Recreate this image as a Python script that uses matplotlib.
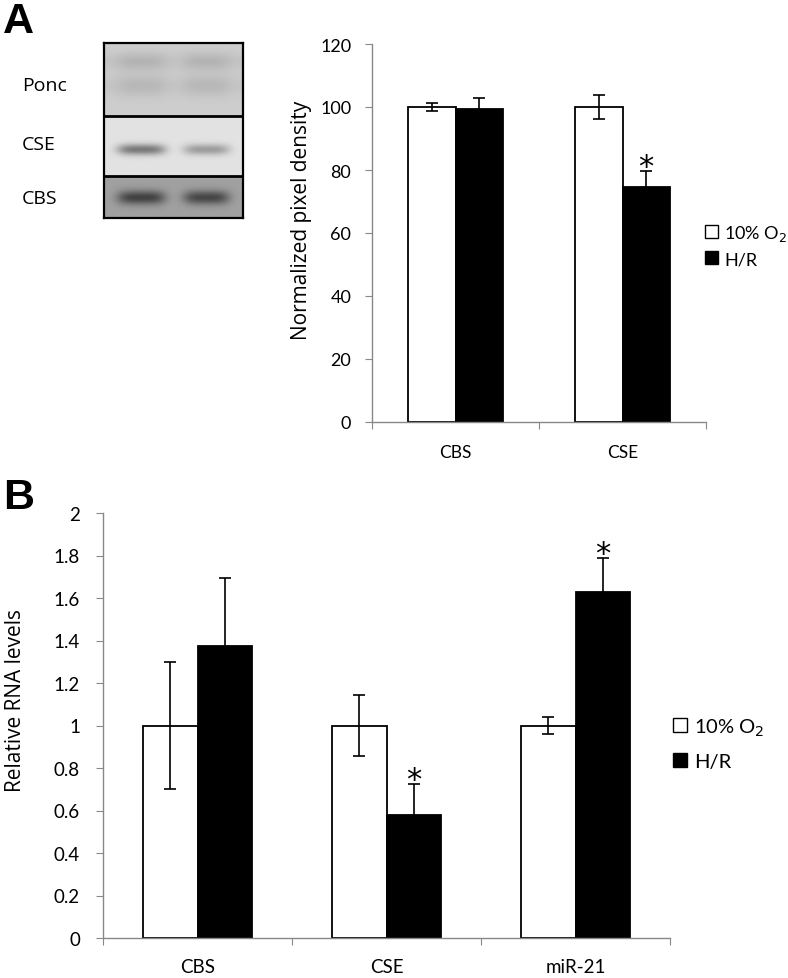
import numpy as np
import matplotlib.pyplot as plt
from matplotlib.patches import Patch
from matplotlib.ticker import FuncFormatter

plt.rcParams['font.family'] = ['Lato', 'DejaVu Sans']

# Panel A: western blot densitometry
a_genes = ["CBS", "CSE"]
a_ctrl = [100.0, 100.0]
a_ctrl_err = [1.2, 3.7]
a_hr = [99.5, 74.7]
a_hr_err = [3.5, 5.0]
a_sig = [False, True]

# Panel B: qPCR
b_genes = ["CBS", "CSE", "miR-21"]
b_ctrl = [1.0, 1.0, 1.0]
b_ctrl_err = [0.30, 0.145, 0.038]
b_hr = [1.375, 0.58, 1.63]
b_hr_err = [0.32, 0.145, 0.16]
b_sig = [False, True, True]

blot_rows = ["Ponc", "CSE", "CBS"]
legend_labels = ["10% O$_2$", "H/R"]

W, H = 788, 979
fig = plt.figure(figsize=(W / 100, H / 100), dpi=100)


def fig_rect(x0, y0, x1, y1):
    return [x0 / W, 1 - y1 / H, (x1 - x0) / W, (y1 - y0) / H]


def bar_panel(ax, genes, ctrl, ctrl_err, hr, hr_err, sig, ymax, step, star_pad, bw,
              xpad, xsize, ypad, ysize):
    n = len(genes)
    x = np.arange(n) + 0.5
    ax.bar(x - bw / 2, ctrl, bw, color="white", edgecolor="black", linewidth=1.3, zorder=2)
    ax.bar(x + bw / 2, hr, bw, color="black", edgecolor="black", linewidth=1.3, zorder=2)
    ax.errorbar(x - bw / 2, ctrl, yerr=ctrl_err, fmt="none", ecolor="black",
                elinewidth=1.2, capsize=4.5, capthick=1.2, zorder=3)
    ax.errorbar(x + bw / 2, hr, yerr=hr_err, fmt="none", ecolor="black",
                elinewidth=1.2, capsize=4.5, capthick=1.2, zorder=3)
    for i in range(n):
        if sig[i]:
            ax.text(x[i] + bw / 2, hr[i] + hr_err[i] + star_pad, "*", ha="center",
                    va="center", fontsize=22, fontfamily="DejaVu Sans")
    ax.set_xlim(0, n)
    ax.set_ylim(0, ymax)
    ax.set_yticks(np.arange(0, ymax + step / 2, step))
    ax.yaxis.set_major_formatter(FuncFormatter(lambda v, p: "%g" % round(v, 2)))
    ax.set_xticks(np.arange(n + 1))
    ax.set_xticklabels([])
    ax.set_xticks(x, minor=True)
    ax.set_xticklabels(genes, minor=True)
    ax.tick_params(axis="x", which="minor", length=0, pad=xpad, labelsize=xsize)
    ax.tick_params(axis="x", which="major", length=5, color="#888888", direction="out")
    ax.tick_params(axis="y", length=5, color="#888888", direction="out", pad=ypad,
                   labelsize=ysize)
    for s in ["top", "right"]:
        ax.spines[s].set_visible(False)
    for s in ["left", "bottom"]:
        ax.spines[s].set_color("#888888")
        ax.spines[s].set_linewidth(1.0)
    handles = [Patch(facecolor="white", edgecolor="black", linewidth=1.0),
               Patch(facecolor="black", edgecolor="black")]
    return handles


# ---- Blot image ----
ax_blot = fig.add_axes(fig_rect(104, 44, 243, 219))
bw_px, bh_px = 139, 175
cols = np.arange(bw_px)
lane1 = np.exp(-((cols - 37) / 24.0) ** 4)
lane2 = np.exp(-((cols - 102) / 23.0) ** 4)
img = np.zeros((bh_px, bw_px))
# Ponceau section
for r in range(0, 73):
    smear = 0.7 * np.exp(-((r - 18) / 9.0) ** 2) + 0.6 * np.exp(-((r - 42) / 11.0) ** 2)
    img[r] = 205 - 40 * smear * (0.55 * lane1 + 0.55 * lane2 + 0.35)
# CSE section
for r in range(73, 133):
    band = np.exp(-((r - 106) / 5.5) ** 2)
    img[r] = 226 - band * (105 * lane1 + 70 * lane2)
# CBS section
for r in range(133, 175):
    band = np.exp(-((r - 154) / 7.0) ** 2)
    img[r] = 160 - band * (95 * lane1 + 90 * lane2)
ax_blot.imshow(img, cmap="gray", vmin=0, vmax=255, aspect="auto",
               extent=(0, bw_px, bh_px, 0), interpolation="bilinear")
for yy in [73, 133]:
    ax_blot.axhline(yy, color="black", linewidth=2)
ax_blot.set_xticks([])
ax_blot.set_yticks([])
for s in ax_blot.spines.values():
    s.set_linewidth(1.6)

for name, yc in zip(blot_rows, [86, 145, 199]):
    fig.text(22 / W, 1 - yc / H, name, fontsize=14, va="center", ha="left",
             fontfamily="Open Sans")

fig.text(3 / W, 1 - 22 / H, "A", fontsize=31, fontweight="bold", va="center",
         fontfamily="Liberation Sans")
fig.text(3 / W, 1 - 498 / H, "B", fontsize=31, fontweight="bold", va="center",
         fontfamily="Liberation Sans")

# ---- Panel A ----
ax_a = fig.add_axes(fig_rect(372, 45, 706, 423))
h = bar_panel(ax_a, a_genes, a_ctrl, a_ctrl_err, a_hr, a_hr_err, a_sig, 120, 20,
              1.3, 0.283, 16, 12.5, 10, 13)
ax_a.set_ylabel("Normalized pixel density", fontsize=15, fontfamily="Open Sans")
ax_a.yaxis.set_label_coords(-0.18, 0.537)
fig.legend(h, legend_labels, loc="center left",
           bbox_to_anchor=(705 / W, 1 - 246 / H), frameon=False, fontsize=13,
           handlelength=0.7, handleheight=0.7, handletextpad=0.35, labelspacing=0.45,
           borderaxespad=0, borderpad=0)

# ---- Panel B ----
ax_b = fig.add_axes(fig_rect(103, 514, 670, 939))
h = bar_panel(ax_b, b_genes, b_ctrl, b_ctrl_err, b_hr, b_hr_err, b_sig, 2, 0.2,
              0.02, 0.29, 14.5, 13.5, 11.5, 13.5)
ax_b.set_ylabel("Relative RNA levels", fontsize=15, fontfamily="Open Sans")
ax_b.yaxis.set_label_coords(-0.136, 0.562)
fig.legend(h, legend_labels, loc="center left",
           bbox_to_anchor=(673 / W, 1 - 744 / H), frameon=False, fontsize=14.5,
           handlelength=0.7, handleheight=0.7, handletextpad=0.35, labelspacing=0.75,
           borderaxespad=0, borderpad=0)

fig.savefig("out.png", dpi=100)
